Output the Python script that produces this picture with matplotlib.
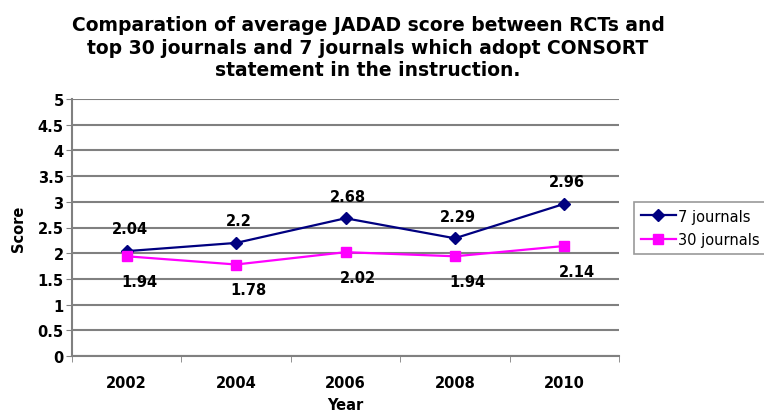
import matplotlib
matplotlib.use('Agg')
import matplotlib.pyplot as plt
import numpy as np

# data
years = ['2002', '2004', '2006', '2008', '2010']
seven_journals = [2.04, 2.2, 2.68, 2.29, 2.96]
thirty_journals = [1.94, 1.78, 2.02, 1.94, 2.14]
y_ticks = [0, 0.5, 1, 1.5, 2, 2.5, 3, 3.5, 4, 4.5, 5]
title = ('Comparation of average JADAD score between RCTs and\n'
         'top 30 journals and 7 journals which adopt CONSORT\n'
         'statement in the instruction.')

plt.rcParams['font.family'] = ['DejaVu Sans']

W, H = 764, 414
fig = plt.figure(figsize=(W / 100, H / 100), dpi=100)
# plot area in pixels: x 72..619, y 100..357
ax = fig.add_axes([72 / W, (H - 357) / H, 547 / W, 257 / H])

x = np.arange(len(years))
ax.plot(x, seven_journals, color='#000080', marker='D', markersize=6,
        linewidth=1.6, label='7 journals')
ax.plot(x, thirty_journals, color='#FF00FF', marker='s', markersize=7.5,
        linewidth=1.6, label='30 journals')

for xi, v in zip(x, seven_journals):
    ax.annotate(f'{v:g}', (xi, v), xytext=(2, 16), textcoords='offset points',
                ha='center', va='center', fontsize=10.5, fontweight='bold')
for xi, v in zip(x, thirty_journals):
    ax.annotate(f'{v:g}', (xi, v), xytext=(9, -18), textcoords='offset points',
                ha='center', va='center', fontsize=10.5, fontweight='bold')

ax.set_xlim(-0.5, len(years) - 0.5)
ax.set_ylim(0, 5)
ax.set_yticks(y_ticks)
ax.set_yticklabels([f'{t:g}' for t in y_ticks], fontsize=10.5, fontweight='bold')
ax.set_xticks(x)
ax.set_xticklabels(years, fontsize=10.5, fontweight='bold')
ax.tick_params(axis='x', length=0, pad=14)
ax.set_xticks(np.arange(-0.5, len(years)), minor=True)
ax.tick_params(axis='x', which='minor', length=4, color='#808080')
ax.tick_params(axis='y', length=4, color='#808080', pad=2)

ax.grid(axis='y', color='#808080', linewidth=1.5)
ax.set_axisbelow(True)
for side in ['top', 'right']:
    ax.spines[side].set_visible(False)
for side in ['left', 'bottom']:
    ax.spines[side].set_color('#808080')
    ax.spines[side].set_linewidth(1.5)

ax.set_ylabel('Score', fontsize=10.5, fontweight='bold', labelpad=8)
ax.set_xlabel('Year', fontsize=10.5, fontweight='bold', labelpad=5)

fig.text(368 / W, 1 - 16 / H, title, ha='center', va='top', fontsize=13.5,
         fontweight='bold', linespacing=1.25)

leg = fig.legend(loc='upper left', bbox_to_anchor=(634 / W, 1 - 203 / H),
                 fontsize=10.5, fancybox=False, edgecolor='#808080',
                 handlelength=2.4, borderpad=0.45, handletextpad=0.2,
                 labelspacing=0.6, borderaxespad=0)
leg.get_frame().set_linewidth(1.2)

fig.savefig('out.png', dpi=100)
